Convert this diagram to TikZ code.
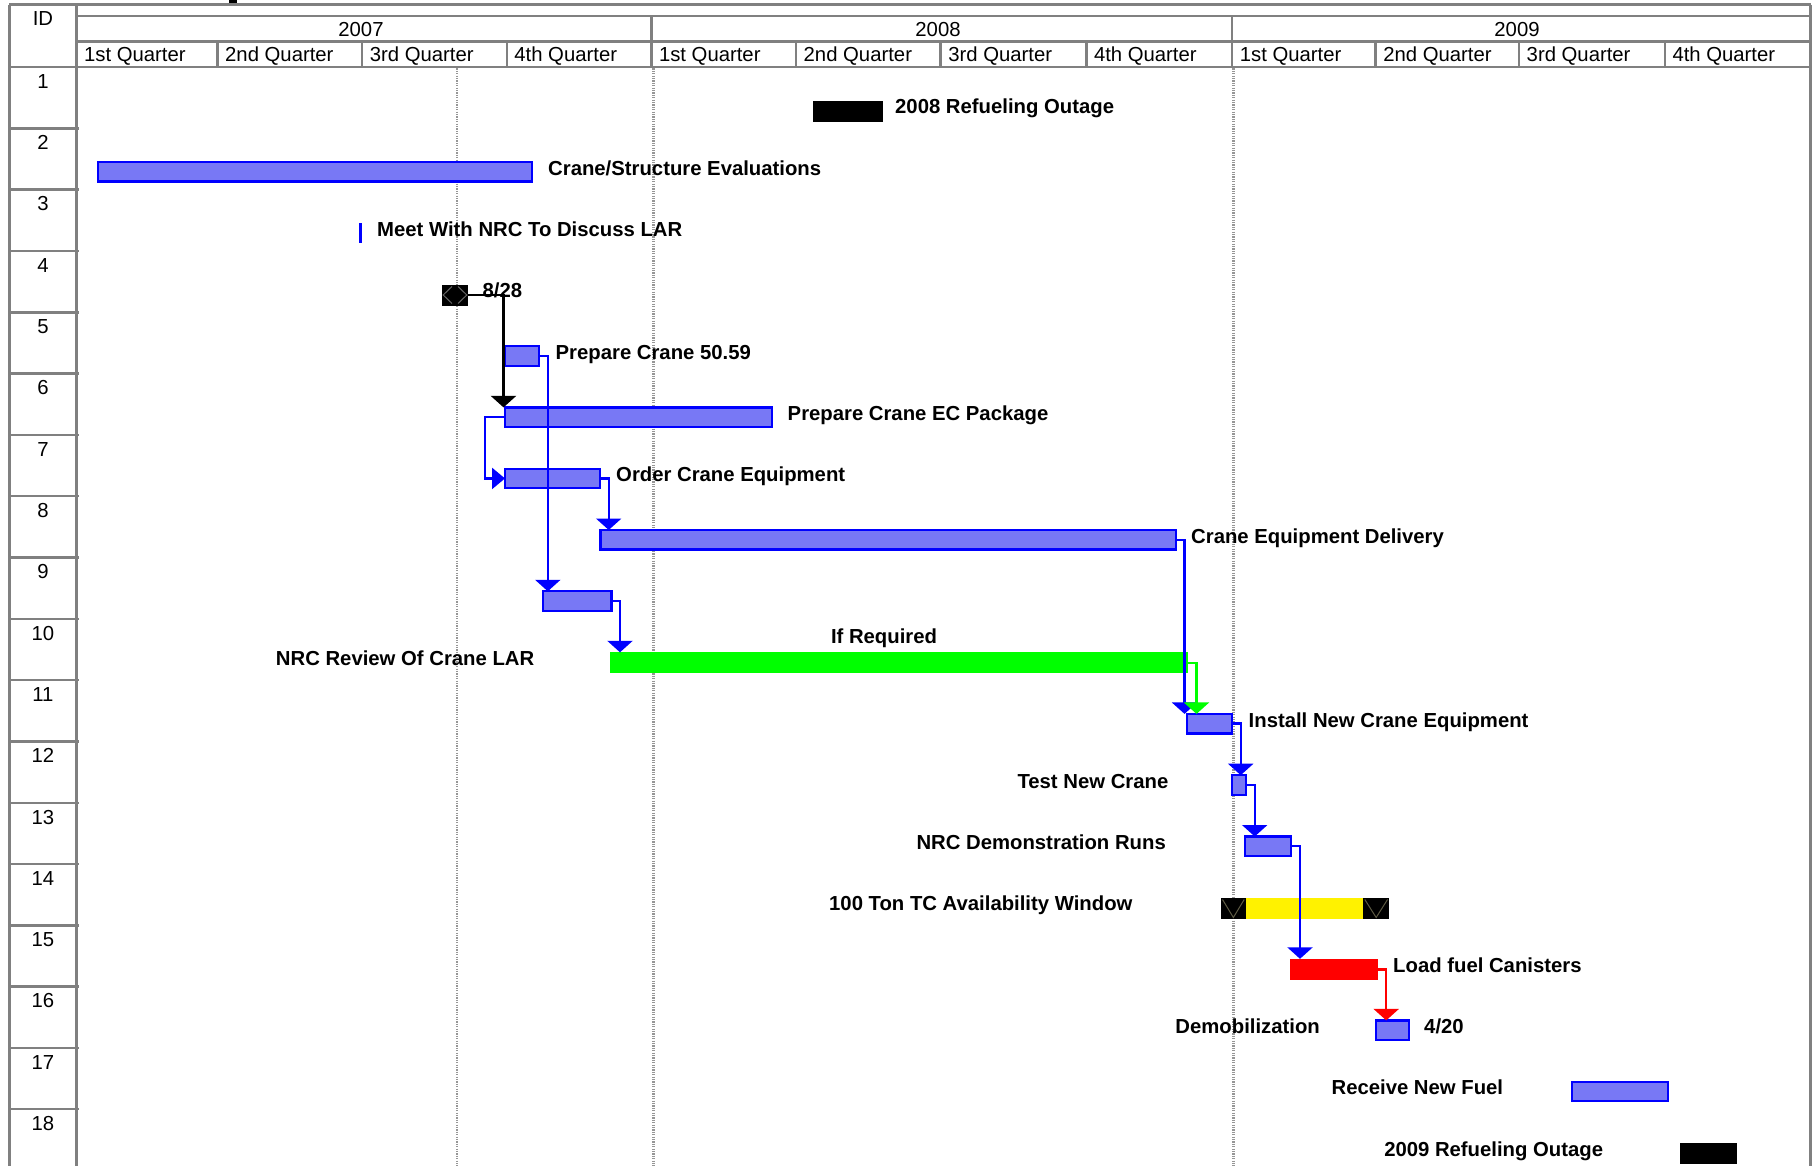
\documentclass[tikz,border=0pt]{standalone}
\usepackage{fontspec}
\setmainfont{Liberation Sans}
\usetikzlibrary{arrows.meta,calc}
\definecolor{barblue}{RGB}{120,120,245}
\definecolor{gridgray}{RGB}{128,128,128}
\definecolor{dotgray}{RGB}{150,150,150}
\begin{document}
\begin{tikzpicture}[x=1pt,y=-1pt,
  grid/.style={draw=gridgray,line width=2.4pt},
  dotgrid/.style={draw=dotgray,line width=2.4pt,dash pattern=on 1.2pt off 1.2pt},
  hdr/.style={font=\fontsize{20.3}{24}\selectfont,inner sep=0pt,text=black},
  lbl/.style={font=\fontsize{20.3}{24}\selectfont\bfseries,inner sep=0pt,text=black},
  taskbar/.style={rectangle,draw=blue,line width=2.2pt,fill=barblue,inner sep=0pt,outer sep=0pt,minimum height=19.5pt,anchor=north west},
  solidbar/.style={rectangle,draw=none,inner sep=0pt,outer sep=0pt,minimum height=21pt,anchor=north west},
  conn/.style={draw=blue,line width=2.4pt,-{Triangle[width=25pt,length=11.5pt]}},
  msline/.style={draw=black!60,line width=1pt}]
\useasboundingbox (0,0) rectangle (1814,1166);

% ---------- frame and header ----------
\fill[black] (229,0) rectangle (237,4.6);
\draw[grid] (9.3,4.6) -- (1810.5,4.6);
\draw[grid] (9.3,4.6) -- (9.3,1166);
\draw[grid] (76.4,4.6) -- (76.4,1166);
\draw[grid] (1810.5,4.6) -- (1810.5,1166);
\draw[grid] (76.4,16.2) -- (1810.5,16.2);
\draw[grid] (76.4,41.6) -- (1810.5,41.6);
\draw[grid] (9.3,67.1) -- (1810.5,67.1);
\foreach \x in {651.3,1232.1} \draw[grid] (\x,16.2) -- (\x,67.1);
\foreach \x in {217.5,362.1,506.7,796.0,940.6,1086.3,1375.6,1519.0,1664.8} \draw[grid] (\x,41.6) -- (\x,67.1);
\foreach \k in {2,...,18} \draw[grid] (9.3,{67.1+(\k-1)*61.3}) -- (79,{67.1+(\k-1)*61.3});

\node[hdr,anchor=base] (idh) at (42.9,25.7) {ID};
\node[hdr,anchor=base] (y2007) at (361,36.2) {2007};
\node[hdr,anchor=base] (y2008) at (938,36.2) {2008};
\node[hdr,anchor=base] (y2009) at (1517,36.2) {2009};
\foreach \x/\q [count=\i] in {76.4/1st,217.5/2nd,362.1/3rd,506.7/4th,651.3/1st,796.0/2nd,940.6/3rd,1086.3/4th,1232.1/1st,1375.6/2nd,1519.0/3rd,1664.8/4th}
  \node[hdr,anchor=base west] (q\i) at (\x+7.5,62) {\q\ Quarter};
\foreach \k in {1,...,18}
  \node[hdr,anchor=base] (id\k) at (42.9,{67.1+(\k-1)*61.3+21.3}) {\k};

% ---------- dotted date lines ----------
\foreach \x in {456.7,653.3,1233.3} \draw[dotgrid] (\x,68.5) -- (\x,1166);

% ---------- bars ----------
\node[solidbar,fill=black,minimum width=69.4pt] (b1) at (813.3,100.6) {};
\node[taskbar,minimum width=433.9pt] (b2) at (98.3,162.1) {};
\node[solidbar,fill=blue,minimum width=3.5pt,minimum height=20pt] (b3) at (358.8,223.5) {};
\node[solidbar,fill=black,minimum width=26.6pt] (ms4) at (441.7,284.5) {};
\draw[msline] ($(ms4.north)+(-3,2)$) -- ($(ms4.west)+(1.5,0)$) -- ($(ms4.south)+(-3,-2)$);
\draw[msline] ($(ms4.north)+(3,2)$) -- ($(ms4.east)+(-1.5,0)$) -- ($(ms4.south)+(3,-2)$);
\node[taskbar,minimum width=34pt] (b5) at (505.3,346.1) {};
\node[taskbar,minimum width=266.7pt] (b6) at (505,407.4) {};
\node[taskbar,minimum width=95.2pt] (b7) at (505,468.7) {};
\node[taskbar,minimum width=575.6pt] (b8) at (600.4,530) {};
\node[taskbar,minimum width=68.5pt] (b9) at (543,591.3) {};
\node[solidbar,fill=green,minimum width=578pt] (b10) at (610,652.3) {};
\node[taskbar,minimum width=45pt] (b11) at (1186.7,713.9) {};
\node[taskbar,minimum width=14pt] (b12) at (1231.7,775.2) {};
\node[taskbar,minimum width=46pt] (b13) at (1245,836.5) {};
\node[solidbar,fill=yellow,minimum width=143.4pt] (b14) at (1233.3,897.5) {};
\node[solidbar,fill=black,minimum width=24.7pt] (m14a) at (1221,897.5) {};
\node[solidbar,fill=black,minimum width=25.7pt] (m14b) at (1363.3,897.5) {};
\foreach \m in {m14a,m14b}
  \draw[msline,draw=black!55!yellow!60!black] ($(\m.north west)+(1.5,2)$) -- ($(\m.south)+(0,-1)$) -- ($(\m.north east)+(-1.5,2)$);
\node[solidbar,fill=red,minimum width=87.7pt] (b15) at (1290,958.8) {};
\node[taskbar,minimum width=32.7pt] (b16) at (1376,1020.4) {};
\node[taskbar,minimum width=96pt] (b17) at (1572.3,1081.7) {};
\node[solidbar,fill=black,minimum width=56.7pt] (b18) at (1680,1142.7) {};

% ---------- connectors ----------
\coordinate (k4) at ($(b6.north west)+(-1.5,0)$);
\draw[conn,draw=black] (ms4.east) -- (ms4.east -| k4) -- (k4);
\path (b5.east) ++(8.5,0) coordinate (j5);
\draw[conn] (b5.east) -- (j5) -- (j5 |- b9.north);
\draw[conn,-{Triangle[width=21pt,length=13pt]}] (b6.west) -- ++(-20,0) |- (b7.west);
\path (b7.east) ++(8.5,0) coordinate (j7);
\draw[conn] (b7.east) -- (j7) -- (j7 |- b8.north);
\path (b9.east) ++(8.5,0) coordinate (j9);
\draw[conn] (b9.east) -- (j9) -- (j9 |- b10.north);
\path (b8.east) ++(8.5,0) coordinate (j8);
\draw[conn] (b8.east) -- (j8) -- (j8 |- b11.north);
\path (b10.east) ++(8.5,0) coordinate (j10);
\draw[conn,draw=green] (b10.east) -- (j10) -- (j10 |- b11.north);
\path (b11.east) ++(9,0) coordinate (j11);
\draw[conn] (b11.east) -- (j11) -- (j11 |- b12.north);
\path (b12.east) ++(9,0) coordinate (j12);
\draw[conn] (b12.east) -- (j12) -- (j12 |- b13.north);
\path (b13.east) ++(9,0) coordinate (j13);
\draw[conn] (b13.east) -- (j13) -- (j13 |- b15.north);
\path (b15.east) ++(8.5,0) coordinate (j15);
\draw[conn,draw=red] (b15.east) -- (j15) -- (j15 |- b16.north);

% ---------- labels ----------
\node[lbl,anchor=base west] (l1) at (895,114) {2008 Refueling Outage};
\node[lbl,anchor=base west] (l2) at (548,175.3) {Crane/Structure Evaluations};
\node[lbl,anchor=base west] (l3) at (377,236.6) {Meet With NRC To Discuss LAR};
\node[lbl,anchor=base west] (l4) at (482.5,297.9) {8/28};
\node[lbl,anchor=base west] (l5) at (555.5,359.2) {Prepare Crane 50.59};
\node[lbl,anchor=base west] (l6) at (787.5,420.5) {Prepare Crane EC Package};
\node[lbl,anchor=base west] (l7) at (616,481.8) {Order Crane Equipment};
\node[lbl,anchor=base west] (l8) at (1191,543.1) {Crane Equipment Delivery};
\node[lbl,anchor=base] (l10a) at (884,643.8) {If Required};
\node[lbl,anchor=base east] (l10) at (534.5,665.7) {NRC Review Of Crane LAR};
\node[lbl,anchor=base west] (l11) at (1248.5,727) {Install New Crane Equipment};
\node[lbl,anchor=base east] (l12) at (1168.5,788.3) {Test New Crane};
\node[lbl,anchor=base east] (l13) at (1166,849.6) {NRC Demonstration Runs};
\node[lbl,anchor=base east] (l14) at (1132.6,910.9) {100 Ton TC Availability Window};
\node[lbl,anchor=base west] (l15) at (1393,972.2) {Load fuel Canisters};
\node[lbl,anchor=base east] (l16) at (1320,1033.5) {Demobilization};
\node[lbl,anchor=base west] (l16b) at (1424,1033.5) {4/20};
\node[lbl,anchor=base east] (l17) at (1503.3,1094.8) {Receive New Fuel};
\node[lbl,anchor=base east] (l18) at (1603.3,1156.1) {2009 Refueling Outage};
\end{tikzpicture}
\end{document}
